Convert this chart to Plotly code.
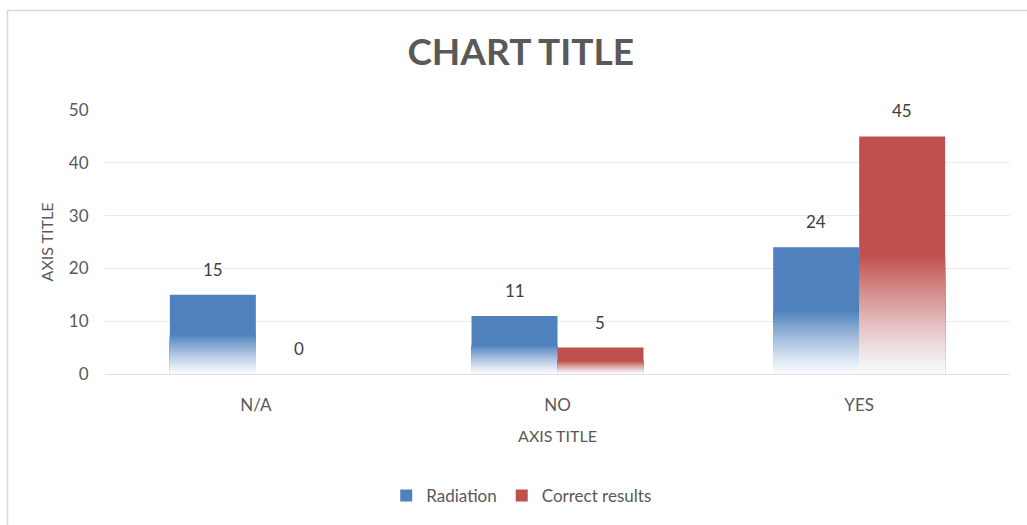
import plotly.graph_objects as go

# Chart data
categories = ["N/A", "NO", "YES"]
radiation = [15, 11, 24]
correct_results = [0, 5, 45]
series_names = ["Radiation", "Correct results"]
series_values = [radiation, correct_results]
series_colors = ["#4F81BD", "#C0504D"]
y_ticks = [0, 10, 20, 30, 40, 50]

# Figure geometry
W, H = 1027, 525
M = dict(l=105, r=17, t=110, b=151)
BARGAP = 0.43
FADE_STEPS = 40
FONT = "Lato, 'Open Sans', sans-serif"
TEXT_GREY = "#595959"

plot_w = W - M["l"] - M["r"]
plot_h = H - M["t"] - M["b"]
bar_w = plot_w / len(categories) * (1 - BARGAP) / len(series_names)


def blend(hex_color, t):
    """Mix a colour with near-white; t=0 gives the pale end, t=1 the full colour."""
    r, g, b = (int(hex_color[i:i + 2], 16) for i in (1, 3, 5))
    pale = (248, 250, 253)
    mix = [round(p + (c - p) * t) for p, c in zip(pale, (r, g, b))]
    return "rgb({},{},{})".format(*mix)


fig = go.Figure()

for name, values, color in zip(series_names, series_values, series_colors):
    # solid bar
    fig.add_trace(go.Bar(
        name=name, x=categories, y=values, offsetgroup=name,
        marker=dict(color=color, line=dict(width=0)),
    ))
    # lower half of each bar fades towards white: nested bars from the
    # baseline, tallest (darkest) first, each shorter one a little paler
    xs, heights, colors = [], [], []
    for cat, v in zip(categories, values):
        for k in range(FADE_STEPS):
            frac = (FADE_STEPS - k) / FADE_STEPS
            xs.append(cat)
            heights.append(v * 0.5 * frac)
            colors.append(blend(color, (frac - 0.5 / FADE_STEPS) ** 1.2))
    fig.add_trace(go.Bar(
        x=xs, y=heights, base=[0] * len(xs), offsetgroup=name,
        marker=dict(color=colors, line=dict(width=0)),
        showlegend=False, hoverinfo="skip",
    ))

# value labels above the bars
annotations = []
n = len(series_names)
for i, values in enumerate(series_values):
    shift = (i - (n - 1) / 2) * bar_w
    for cat, v in zip(categories, values):
        annotations.append(dict(
            x=cat, y=v, xref="x", yref="y", text=str(v), showarrow=False,
            xshift=shift, yshift=13, yanchor="bottom",
            font=dict(family=FONT, size=17, color="#404040"),
        ))

# chart area outline (top and left edges visible)
px_x = lambda p: (p - M["l"]) / plot_w
px_y = lambda p: (H - M["b"] - p) / plot_h
shapes = [dict(
    type="rect", xref="paper", yref="paper",
    x0=px_x(7.5), x1=px_x(W + 20), y0=px_y(10.5), y1=px_y(H + 20),
    line=dict(color="#d9d9d9", width=1.5), fillcolor="rgba(0,0,0,0)", layer="below",
)]

fig.update_layout(
    width=W, height=H, margin=M,
    paper_bgcolor="white", plot_bgcolor="white",
    barmode="group", bargap=BARGAP, bargroupgap=0,
    font=dict(family=FONT, size=16, color=TEXT_GREY),
    title=dict(
        text="<b>CHART TITLE</b>", xref="container", yref="container",
        x=0.507, y=1 - 52 / H, xanchor="center", yanchor="middle",
        font=dict(family=FONT, size=37, color=TEXT_GREY),
    ),
    xaxis=dict(
        type="category", showgrid=False, zeroline=False, showline=False,
        ticks="outside", ticklen=16, tickcolor="rgba(0,0,0,0)",
        tickfont=dict(size=17, color=TEXT_GREY),
        title=dict(text="AXIS TITLE", standoff=16, font=dict(size=16, color=TEXT_GREY)),
    ),
    yaxis=dict(
        range=[0, 50], tickvals=y_ticks, showgrid=True, gridcolor="#ebebeb",
        gridwidth=1, zeroline=True, zerolinecolor="#e0e0e0", zerolinewidth=1,
        showline=False, ticks="outside", ticklen=12, tickcolor="rgba(0,0,0,0)",
        tickfont=dict(size=17, color=TEXT_GREY),
        title=dict(text="AXIS TITLE", standoff=11, font=dict(size=16, color=TEXT_GREY)),
    ),
    legend=dict(
        orientation="h", xref="container", yref="container",
        x=0.508, y=1 - 496 / H, xanchor="center", yanchor="middle",
        font=dict(size=17, color=TEXT_GREY), itemwidth=30,
        traceorder="normal",
    ),
    annotations=annotations,
    shapes=shapes,
    showlegend=True,
)

fig.write_html("out.html")
